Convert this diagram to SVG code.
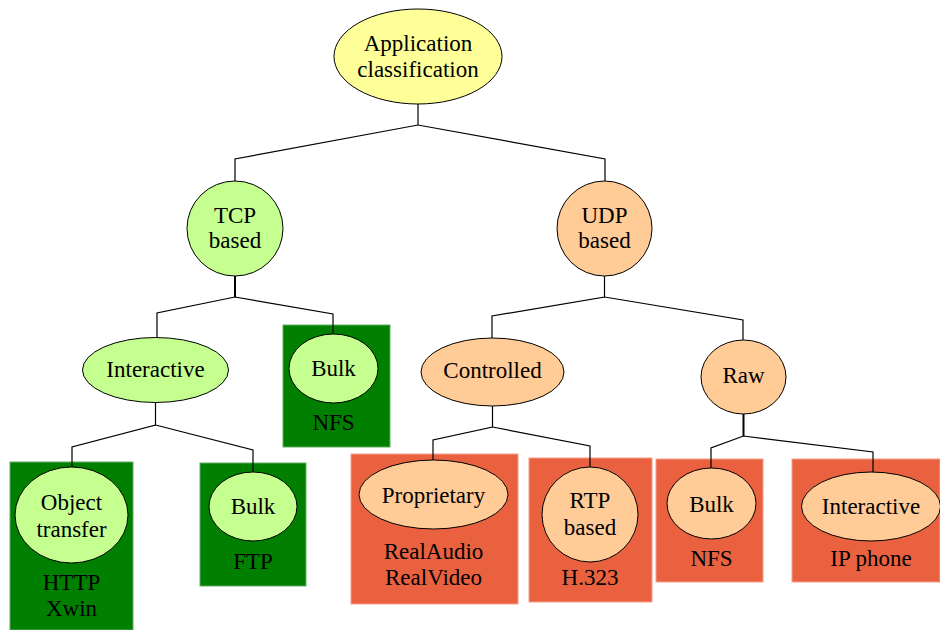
<svg xmlns="http://www.w3.org/2000/svg" width="940" height="630" viewBox="0 0 940 630">
<style>
text{font-family:"Liberation Serif","Times New Roman",serif;font-size:23px;fill:#000;text-anchor:middle}
.e{stroke:#000;stroke-width:1}
.y{fill:#FFFF99}
.g{fill:#C4FF90}
.p{fill:#FFCB96}
.bg{fill:#007F00;stroke:#5FAF5F;stroke-width:1}
.bo{fill:#EA6140;stroke:#F4A08C;stroke-width:1}
.c{fill:none;stroke:#000;stroke-width:1.2}
.t{fill:none;stroke:#000;stroke-width:2}
</style>
<rect width="940" height="630" fill="#fff"/>
<g id="root"><ellipse class="e y" cx="418" cy="56.5" rx="84" ry="47.5"/><text x="418" y="51">Application</text><text x="418" y="77">classification</text></g>
<g id="tcp"><ellipse class="e g" cx="235" cy="228.5" rx="48" ry="47.5"/><text x="235" y="223">TCP</text><text x="235" y="248">based</text></g>
<g id="udp"><ellipse class="e p" cx="604.5" cy="228.5" rx="47.5" ry="47.5"/><text x="604.5" y="223">UDP</text><text x="604.5" y="248">based</text></g>
<g id="tcp-interactive"><ellipse class="e g" cx="155.5" cy="370" rx="73" ry="32.5"/><text x="155.5" y="377">Interactive</text></g>
<g id="tcp-bulk"><rect class="bg" x="283" y="325" width="107" height="122"/><ellipse class="e g" cx="333.5" cy="368.5" rx="44.5" ry="34.5"/><text x="333.5" y="376">Bulk</text><text x="333.5" y="430">NFS</text></g>
<g id="controlled"><ellipse class="e p" cx="492.5" cy="372" rx="71.5" ry="34"/><text x="492.5" y="378">Controlled</text></g>
<g id="raw"><ellipse class="e p" cx="743.5" cy="377" rx="42.5" ry="37"/><text x="743.5" y="383">Raw</text></g>
<g id="object-transfer"><rect class="bg" x="10" y="462" width="123" height="168"/><ellipse class="e g" cx="71.5" cy="515" rx="56.5" ry="48"/><text x="71.5" y="510">Object</text><text x="71.5" y="537">transfer</text><text x="71.5" y="590">HTTP</text><text x="71.5" y="616">Xwin</text></g>
<g id="ftp-bulk"><rect class="bg" x="200" y="463" width="106" height="123"/><ellipse class="e g" cx="253" cy="506.5" rx="44" ry="34.5"/><text x="253" y="514">Bulk</text><text x="253" y="569">FTP</text></g>
<g id="proprietary"><rect class="bo" x="351" y="454" width="167" height="150"/><ellipse class="e p" cx="433.5" cy="494.5" rx="74.5" ry="34.5"/><text x="433.5" y="503">Proprietary</text><text x="433.5" y="559">RealAudio</text><text x="433.5" y="585">RealVideo</text></g>
<g id="rtp"><rect class="bo" x="529" y="458" width="123" height="144"/><ellipse class="e p" cx="590" cy="514.5" rx="48" ry="47.5"/><text x="590" y="508">RTP</text><text x="590" y="535">based</text><text x="590" y="585">H.323</text></g>
<g id="raw-bulk"><rect class="bo" x="656" y="459" width="107" height="123"/><ellipse class="e p" cx="711.5" cy="503.5" rx="44.5" ry="35.5"/><text x="711.5" y="512">Bulk</text><text x="711.5" y="566">NFS</text></g>
<g id="raw-interactive"><rect class="bo" x="792" y="459" width="148" height="123"/><ellipse class="e p" cx="871" cy="506.5" rx="69.5" ry="34.5"/><text x="871" y="514">Interactive</text><text x="871" y="566">IP phone</text></g>
<g id="connectors">
<path class="c" d="M418,104 V125 M235,181 V159 L418,125 L605,159 V181"/>
<path class="t" d="M235,276 V297"/>
<path class="c" d="M235,297 L157,313 V337.5 M235,297 L333,314 V334"/>
<path class="c" d="M155.5,402.5 V425 L72,447 V467 M155.5,425 L253,450 V472"/>
<path class="c" d="M604.5,276 V297 L492,316 V338 M604.5,297 L743,320 V340"/>
<path class="c" d="M492.5,406 V427 L433,440 V460 M492.5,427 L590,446 V467"/>
<path class="t" d="M743.5,414 V436"/>
<path class="c" d="M743.5,436 L711,448 V468 M743.5,436 L873,452 V472"/>
</g>
</svg>
